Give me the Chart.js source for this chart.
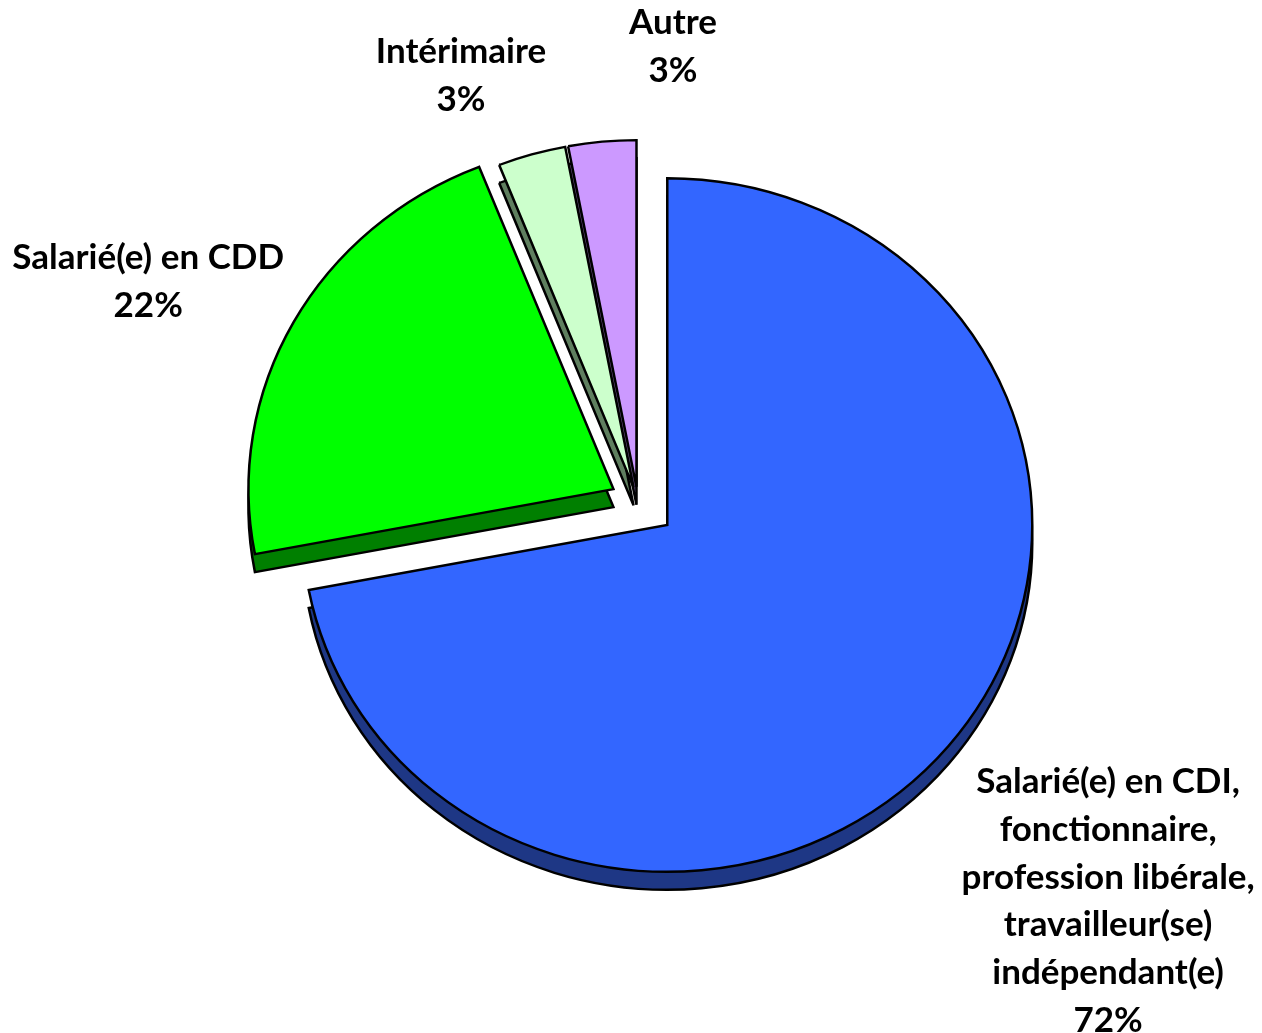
<!DOCTYPE html>
<html>
<head>
<meta charset="utf-8">
<script src="https://cdn.jsdelivr.net/npm/chart.js@4/dist/chart.umd.min.js"></script>
<style>
  html, body { margin: 0; background: #fff; }
  #wrap { width: 1262px; height: 1033px; }
</style>
</head>
<body>
<div id="wrap"><canvas id="pie"></canvas></div>
<script>
// slices, clockwise from 12 o'clock
const categories = [
  ['Salarié(e) en CDI,', 'fonctionnaire,', 'profession libérale,', 'travailleur(se)', 'indépendant(e)'],
  ['Salarié(e) en CDD'],
  ['Intérimaire'],
  ['Autre']
];
const shares = [72, 22, 3, 3];
const faceColors = ['#3366FF', '#00FF00', '#CCFFCC', '#CC99FF'];
const sideColors = ['#1E3785', '#007F00', '#5F7F5F', '#664C80'];
const explode = [38, 28, 16, 16]; // px pulled out along the slice middle

// label placement, relative to pie centre in radius units
const labelPos = [[1.288, 0.767], [-1.342, -0.668], [-0.485, -1.233], [0.096, -1.312]];

const depth = 18, squash = 0.95, radius = 365;

// draws the slices itself: exploded, squashed, with a dark side underneath
const tilt = {
  id: 'tilt',
  beforeDatasetsDraw(chart) {
    const ctx = chart.ctx;
    const arcs = chart.getDatasetMeta(0).data;
    const cx = arcs[0].x, cy = arcs[0].y;
    ctx.save();
    ctx.translate(cx, cy);
    ctx.scale(1, squash);
    ctx.translate(-cx, -cy);
    const pass = (colors, dy) => arcs.forEach((el, i) => {
      const mid = (el.startAngle + el.endAngle) / 2;
      const copy = Object.create(el);
      copy.options = Object.assign({}, el.options, { backgroundColor: colors[i], offset: 0 });
      ctx.save();
      ctx.translate(Math.cos(mid) * explode[i], Math.sin(mid) * explode[i] + dy);
      copy.draw(ctx);
      ctx.restore();
    });
    pass(sideColors, depth / squash);
    pass(faceColors, 0);
    ctx.restore();
    return false;
  },
  afterDraw(chart) {
    const ctx = chart.ctx;
    const arcs = chart.getDatasetMeta(0).data;
    ctx.save();
    ctx.fillStyle = '#000';
    ctx.font = 'bold 35px Lato';
    ctx.textAlign = 'center';
    ctx.textBaseline = 'middle';
    arcs.forEach((el, i) => {
      const x = el.x + labelPos[i][0] * radius;
      let y = el.y + labelPos[i][1] * radius;
      categories[i].concat([shares[i] + '%']).forEach(t => {
        ctx.fillText(t, x, y);
        y += 47.7;
      });
    });
    ctx.restore();
  }
};

new Chart(document.getElementById('pie').getContext('2d'), {
  type: 'pie',
  data: {
    labels: categories.map(c => c.join(' ')),
    datasets: [{
      data: shares,
      backgroundColor: faceColors,
      borderColor: '#000',
      borderWidth: 2.5,
      borderJoinStyle: 'miter',
      hoverOffset: 0,
      clip: false
    }]
  },
  options: {
    responsive: true,
    maintainAspectRatio: false,
    animation: false,
    events: [],
    radius: radius,
    layout: { padding: { left: 14, right: 0, top: 0, bottom: 29 } },
    plugins: {
      legend: { display: false },
      tooltip: { enabled: false }
    }
  },
  plugins: [tilt]
});
</script>
</body>
</html>
